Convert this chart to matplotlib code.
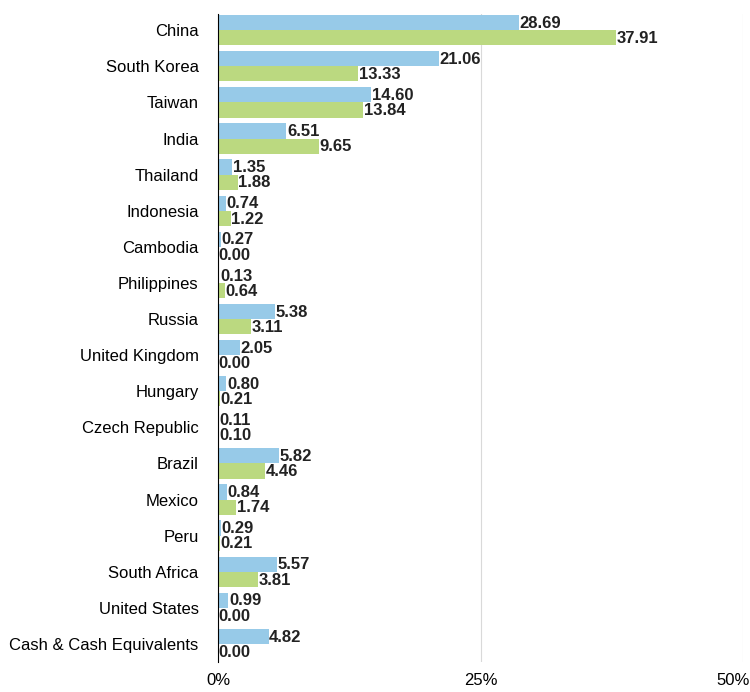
import matplotlib
matplotlib.use("Agg")
import matplotlib.pyplot as plt
import numpy as np

plt.rcParams["font.family"] = ["Liberation Sans", "DejaVu Sans"]

countries = [
    "China", "South Korea", "Taiwan", "India", "Thailand", "Indonesia",
    "Cambodia", "Philippines", "Russia", "United Kingdom", "Hungary",
    "Czech Republic", "Brazil", "Mexico", "Peru", "South Africa",
    "United States", "Cash & Cash Equivalents",
]
fund = [28.69, 21.06, 14.60, 6.51, 1.35, 0.74, 0.27, 0.13, 5.38, 2.05,
        0.80, 0.11, 5.82, 0.84, 0.29, 5.57, 0.99, 4.82]
benchmark = [37.91, 13.33, 13.84, 9.65, 1.88, 1.22, 0.00, 0.64, 3.11, 0.00,
             0.21, 0.10, 4.46, 1.74, 0.21, 3.81, 0.00, 0.00]
x_ticks = [0, 25, 50]
x_labels = ["0%", "25%", "50%"]

blue = "#97cae8"
green = "#bbd980"

fig = plt.figure(figsize=(7.5, 6.92), dpi=100)
ax = fig.add_axes([0.2907, 0.0434, 0.70, 0.9364])

y = np.arange(len(countries))
h = 0.42
ax.barh(y - h / 2, fund, height=h, color=blue, zorder=2)
ax.barh(y + h / 2, benchmark, height=h, color=green, zorder=2)

for yi, v in zip(y, fund):
    ax.text(v + 0.05, yi - h / 2 + 0.02, f"{v:.2f}", va="center", ha="left",
            fontsize=12, fontweight="bold", color="#222222", zorder=3)
for yi, v in zip(y, benchmark):
    ax.text(v + 0.05, yi + h / 2 + 0.02, f"{v:.2f}", va="center", ha="left",
            fontsize=12, fontweight="bold", color="#222222", zorder=3)

ax.set_xlim(0, 50)
ax.set_ylim(len(countries) - 0.5, -0.45)
ax.set_yticks(y, countries, fontsize=12)
# last tick label sits against the right edge, place it by hand
ax.set_xticks(x_ticks, x_labels[:-1] + [""], fontsize=12)
ax.annotate(x_labels[-1], xy=(x_ticks[-1], 0), xycoords=ax.get_xaxis_transform(),
            xytext=(5, -8), textcoords="offset points",
            ha="right", va="top", fontsize=12)
ax.tick_params(axis="both", length=0)
ax.tick_params(axis="y", pad=14)
ax.tick_params(axis="x", pad=8)
ax.grid(axis="x", color="#d9d9d9", linewidth=0.8, zorder=0)
for side in ["top", "right", "bottom"]:
    ax.spines[side].set_visible(False)
ax.spines["left"].set_color("#000000")
ax.spines["left"].set_linewidth(0.8)
ax.spines["left"].set_zorder(4)

fig.savefig("out.png", dpi=100)
